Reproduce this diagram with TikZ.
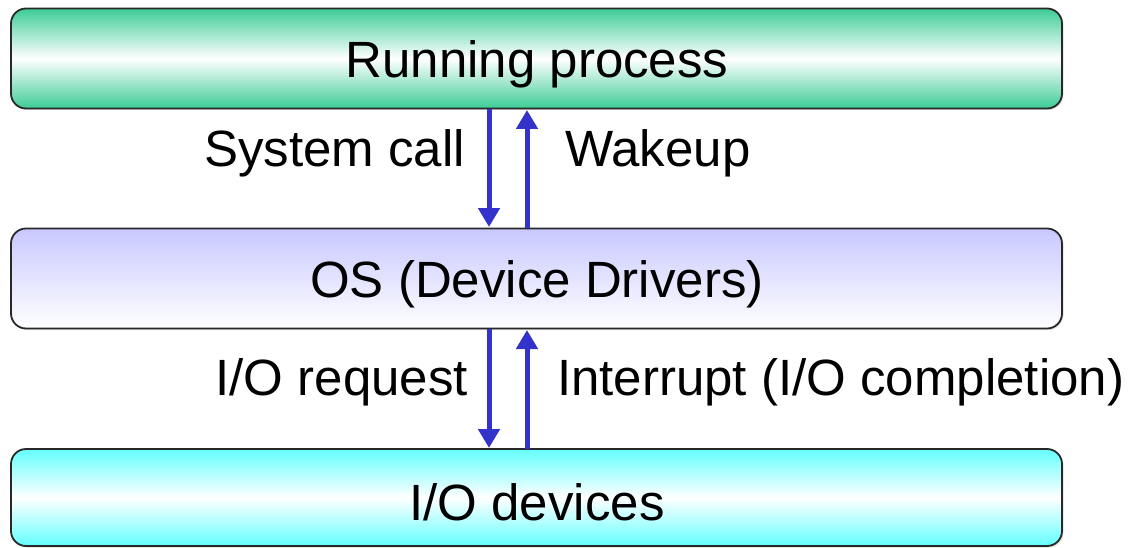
\documentclass[tikz,border=0pt]{standalone}
\usepackage{fontspec}
\setmainfont{Liberation Sans}
\usetikzlibrary{arrows.meta,shadows}
\definecolor{boxgreen}{RGB}{60,204,150}
\definecolor{boxlav}{RGB}{200,200,255}
\definecolor{boxcyan}{RGB}{100,255,255}
\definecolor{arrowblue}{RGB}{51,51,204}
\definecolor{edgegray}{RGB}{40,40,40}
\tikzset{
  layer/.style={draw=edgegray, line width=1.8pt, rounded corners=15pt,
    minimum width=1051pt, inner sep=0pt,
    drop shadow={shadow xshift=1.5pt, shadow yshift=-1.5pt, opacity=0.25, fill=gray}},
  lbl/.style={inner sep=0pt, font=\fontsize{51}{60}\selectfont},
  flow/.style={draw=arrowblue, line width=5pt,
    -{Triangle[length=19pt, width=21pt]}, shorten >=1pt},
}
\begin{document}
\begin{tikzpicture}[x=1pt,y=-1pt]
\useasboundingbox (0,0) rectangle (1129,548);
% boxes
\node[layer, minimum height=100pt, top color=boxgreen, bottom color=boxgreen, middle color=white]
  (run) at (536.5,58.5) {};
\node[layer, minimum height=100pt, top color=boxlav, bottom color=white]
  (os) at (536.5,278.5) {};
\node[layer, minimum height=97pt, top color=boxcyan, bottom color=boxcyan, middle color=white]
  (io) at (536.5,497.5) {};
% box texts
\node[lbl, anchor=base] (runt) at (537,78) {Running process};
\node[lbl, anchor=base] (ost) at (537,297) {OS (Device Drivers)};
\node[lbl, anchor=base] (iot) at (537,520) {I/O devices};
% arrow anchor coordinates
\coordinate (a1s) at (489,109);
\coordinate (a1e) at (489,228);
\coordinate (a2s) at (527,228);
\coordinate (a2e) at (527,109);
\coordinate (a3s) at (489,329);
\coordinate (a3e) at (489,449);
\coordinate (a4s) at (527,449);
\coordinate (a4e) at (527,329);
\draw[flow] (a1s) -- (a1e);
\draw[flow] (a2s) -- (a2e);
\draw[flow] (a3s) -- (a3e);
\draw[flow] (a4s) -- (a4e);
% arrow labels
\node[lbl, anchor=base east] (sc) at (465,167) {System call};
\node[lbl, anchor=base west] (wk) at (565,167) {Wakeup};
\node[lbl, anchor=base east] (req) at (468,395) {I/O request};
\node[lbl, anchor=base west] (intr) at (557,395) {Interrupt (I/O completion)};
\end{tikzpicture}
\end{document}
